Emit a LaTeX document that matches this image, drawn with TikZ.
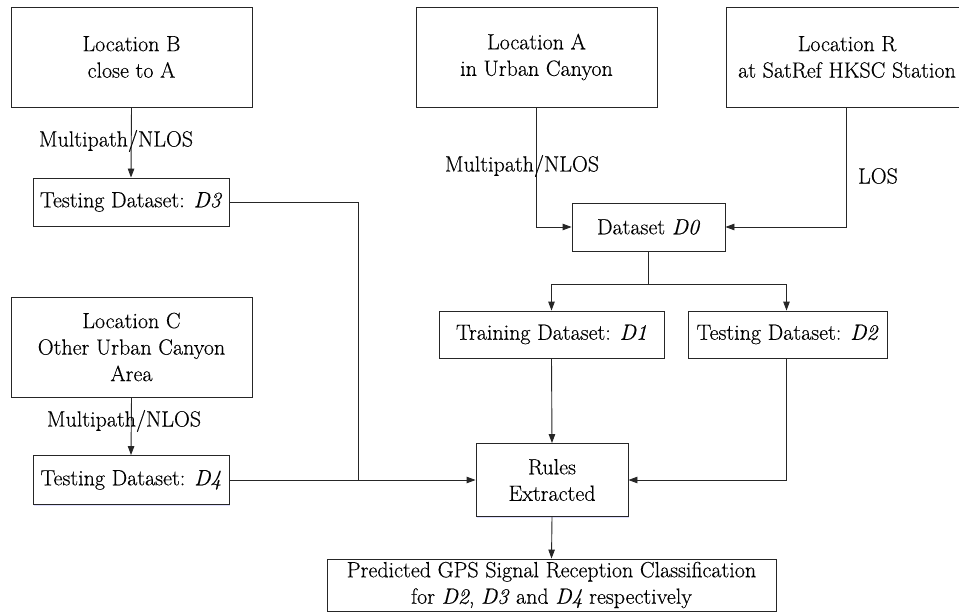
\documentclass[tikz,border=0pt]{standalone}
\usepackage{fontspec}
\setmainfont{Latin Modern Roman}[FakeBold=0.35]
\usetikzlibrary{arrows.meta,shadows}
\begin{document}
\begin{tikzpicture}[x=1pt,y=-1pt,
  font=\rmfamily\fontsize{22}{26.5}\selectfont,
  box/.style={draw=black!85, line width=0.9pt, fill=white, align=center, inner sep=0pt,
    drop shadow={shadow xshift=1.2pt, shadow yshift=-1.2pt, fill=blue!25, opacity=0.5}},
  line/.style={line width=0.9pt, draw=black!85},
  arr/.style={line, -{Triangle[length=9pt,width=6.5pt]}},
  lbl/.style={inner sep=0pt, fill=none}]
\useasboundingbox (0,0) rectangle (959,615);
\fill[white] (0,0) rectangle (959,615);
% nodes
\node[box, minimum width=241pt, minimum height=100pt] (B) at (131.5,57) {Location B\\close to A};
\node[box, minimum width=241pt, minimum height=100pt] (A) at (536.5,57) {Location A\\in Urban Canyon};
\node[box, minimum width=242pt, minimum height=100pt] (R) at (847,57) {Location R\\at SatRef HKSC Station};
\node[box, minimum width=196pt, minimum height=48pt] (D3) at (131,202) {Testing Dataset: \textit{D3}};
\node[box, minimum width=241pt, minimum height=100pt] (C) at (131.5,347) {Location C\\Other Urban Canyon\\Area};
\node[box, minimum width=196pt, minimum height=49pt] (D4) at (131,480) {Testing Dataset: \textit{D4}};
\node[box, minimum width=153pt, minimum height=48pt] (D0) at (648.5,227) {Dataset \textit{D0}};
\node[box, minimum width=225pt, minimum height=47pt] (D1) at (551.5,334.5) {Training Dataset: \textit{D1}};
\node[box, minimum width=199pt, minimum height=47pt] (D2) at (787.5,334.5) {Testing Dataset: \textit{D2}};
\node[box, minimum width=152pt, minimum height=73pt] (Ru) at (552,480) {Rules\\Extracted};
\node[box, minimum width=449pt, minimum height=52pt] (P) at (551.5,585) {Predicted GPS Signal Reception Classification\\for \textit{D2}, \textit{D3} and \textit{D4} respectively};
% junctions
\coordinate (j0) at (648.5,284);
\coordinate (j3) at (358,480);
% connectors
\draw[arr] (B.south) -- (D3.north);
\draw[arr] (C.south) -- (D4.north);
\draw[arr] (A.south) |- (D0.west);
\draw[arr] ([xshift=-1pt]R.south) |- (D0.east);
\draw[line] (D0.south) -- (j0);
\draw[arr] (j0) -| (D1.north);
\draw[arr] (j0) -| ([xshift=-1pt]D2.north);
\draw[arr] (D1.south) -- (Ru.north);
\draw[arr] ([xshift=-1pt]D2.south) |- (Ru.east);
\draw[line] (D3.east) -| (j3);
\draw[arr] (D4.east) -- (Ru.west);
\draw[arr] (Ru.south) -- (P.north);
% labels
\node[lbl] (lB) at (116,141) {Multipath/NLOS};
\node[lbl] (lA) at (522,166) {Multipath/NLOS};
\node[lbl] (lR) at (878,176) {LOS};
\node[lbl] (lC) at (124,421) {Multipath/NLOS};
\end{tikzpicture}
\end{document}
